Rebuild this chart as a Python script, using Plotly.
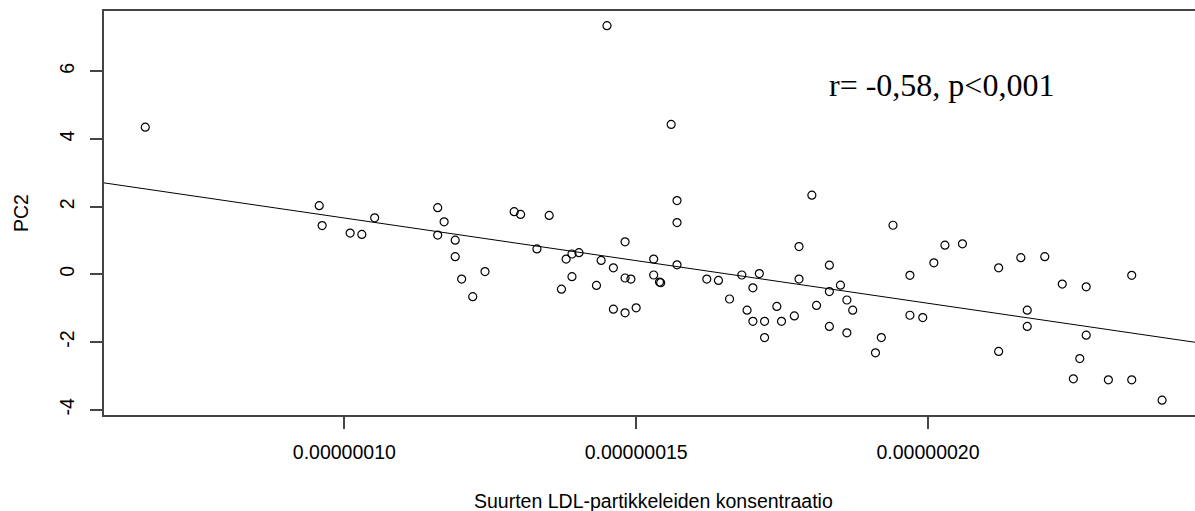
import numpy as np
import plotly.graph_objects as go

# Large LDL particle concentration (x) and PC2 score (y)
ldl_conc = [
    6.59e-8, 9.57e-8, 9.62e-8, 10.10e-8, 10.30e-8, 10.52e-8,
    11.60e-8, 11.71e-8, 11.60e-8, 11.90e-8, 11.90e-8, 12.01e-8, 12.20e-8, 12.41e-8,
    12.91e-8, 13.02e-8, 13.51e-8, 13.30e-8, 13.80e-8, 13.90e-8, 14.02e-8, 13.72e-8,
    13.90e-8, 14.32e-8, 14.40e-8, 14.61e-8, 14.81e-8, 14.81e-8, 14.91e-8, 14.61e-8,
    14.81e-8, 15.00e-8, 15.30e-8, 15.30e-8, 15.40e-8, 15.42e-8, 15.70e-8, 15.70e-8,
    15.70e-8, 16.21e-8, 16.41e-8, 16.60e-8, 16.81e-8, 17.11e-8, 17.00e-8, 16.90e-8,
    17.00e-8, 17.20e-8, 17.20e-8, 17.41e-8, 17.49e-8, 17.71e-8, 17.79e-8, 17.79e-8,
    18.01e-8, 18.09e-8, 18.31e-8, 18.31e-8, 18.50e-8, 18.61e-8, 18.71e-8, 18.31e-8,
    18.61e-8, 19.20e-8, 19.10e-8, 19.40e-8, 19.69e-8, 19.69e-8, 19.91e-8, 20.10e-8,
    20.29e-8, 20.59e-8, 21.21e-8, 21.21e-8, 21.59e-8, 22.00e-8, 22.30e-8, 22.71e-8,
    21.70e-8, 21.70e-8, 22.71e-8, 22.60e-8, 22.49e-8, 23.09e-8, 23.49e-8, 23.49e-8,
    24.01e-8, 14.50e-8, 15.60e-8,
]
pc2 = [
    4.35, 2.03, 1.44, 1.22, 1.18, 1.67,
    1.97, 1.55, 1.16, 1.01, 0.52, -0.14, -0.66, 0.08,
    1.85, 1.77, 1.74, 0.75, 0.45, 0.60, 0.64, -0.44,
    -0.07, -0.33, 0.41, 0.19, 0.96, -0.11, -0.14, -1.03,
    -1.14, -0.99, 0.45, -0.02, -0.23, -0.25, 2.18, 1.53,
    0.28, -0.14, -0.18, -0.73, -0.02, 0.02, -0.40, -1.06,
    -1.39, -1.39, -1.87, -0.95, -1.39, -1.23, 0.82, -0.14,
    2.34, -0.92, 0.27, -0.51, -0.32, -0.76, -1.06, -1.54,
    -1.73, -1.87, -2.32, 1.45, -0.03, -1.21, -1.28, 0.34,
    0.86, 0.90, 0.19, -2.28, 0.49, 0.52, -0.29, -0.37,
    -1.06, -1.54, -1.80, -2.49, -3.09, -3.12, -3.12, -0.03,
    -3.72, 7.35, 4.43,
]

x_tickvals = [1.0e-7, 1.5e-7, 2.0e-7]
x_ticktext = ["0.00000010", "0.00000015", "0.00000020"]
y_tickvals = [-4, -2, 0, 2, 4, 6]
y_ticktext = ["-4", "-2", "0", "2", "4", "6"]

x_title = "Suurten LDL-partikkeleiden konsentraatio"
y_title = "PC2"
stat_text = "r= -0,58, p<0,001"

x_range = [5.883e-8, 24.574e-8]
y_range = [-4.159, 7.783]

# least-squares regression line
slope, intercept = np.polyfit(np.array(ldl_conc), np.array(pc2), 1)
line_x = np.array(x_range)
line_y = intercept + slope * line_x

fig = go.Figure()
fig.add_trace(go.Scatter(
    x=line_x, y=line_y, mode="lines",
    line=dict(color="black", width=1), hoverinfo="skip", showlegend=False,
))
fig.add_trace(go.Scatter(
    x=ldl_conc, y=pc2, mode="markers",
    marker=dict(symbol="circle-open", size=8, color="black", line=dict(width=1.2, color="black")),
    showlegend=False,
))

axis_font = dict(family="Liberation Sans, Arial, sans-serif", size=19.5, color="black")

fig.update_xaxes(
    range=x_range, tickvals=x_tickvals, ticktext=x_ticktext,
    showgrid=False, zeroline=False,
    showline=True, linecolor="#444", linewidth=1.5, mirror=True,
    ticks="outside", ticklen=12, tickwidth=1.5, tickcolor="#444",
    tickfont=axis_font, ticklabelstandoff=7,
)
fig.update_yaxes(
    range=y_range, tickvals=y_tickvals, ticktext=y_ticktext,
    showgrid=False, zeroline=False,
    showline=True, linecolor="#444", linewidth=1.5,
    ticks="outside", ticklen=12, tickwidth=1.5, tickcolor="#444",
    tickfont=axis_font, tickangle=-90, ticklabelstandoff=8,
)

fig.add_annotation(
    text=x_title, xref="paper", yref="paper", x=0.504, y=-0.213,
    xanchor="center", yanchor="middle", showarrow=False, font=axis_font,
)
fig.add_annotation(
    text=y_title, xref="paper", yref="paper", x=-0.076, y=0.5,
    xanchor="center", yanchor="middle", textangle=-90, showarrow=False, font=axis_font,
)
fig.add_annotation(
    text=stat_text, xref="paper", yref="paper", x=0.7672, y=0.8168,
    xanchor="center", yanchor="middle", showarrow=False,
    font=dict(family="Liberation Serif, Times New Roman, serif", size=32, color="black"),
)

fig.update_layout(
    width=1195, height=511, autosize=False,
    margin=dict(l=104, r=0, t=11, b=96),
    paper_bgcolor="white", plot_bgcolor="white",
)

fig.write_html(
    "out.html",
    config={"displayModeBar": False},
    post_script="document.body.style.margin='0';document.body.style.overflow='hidden';",
)
